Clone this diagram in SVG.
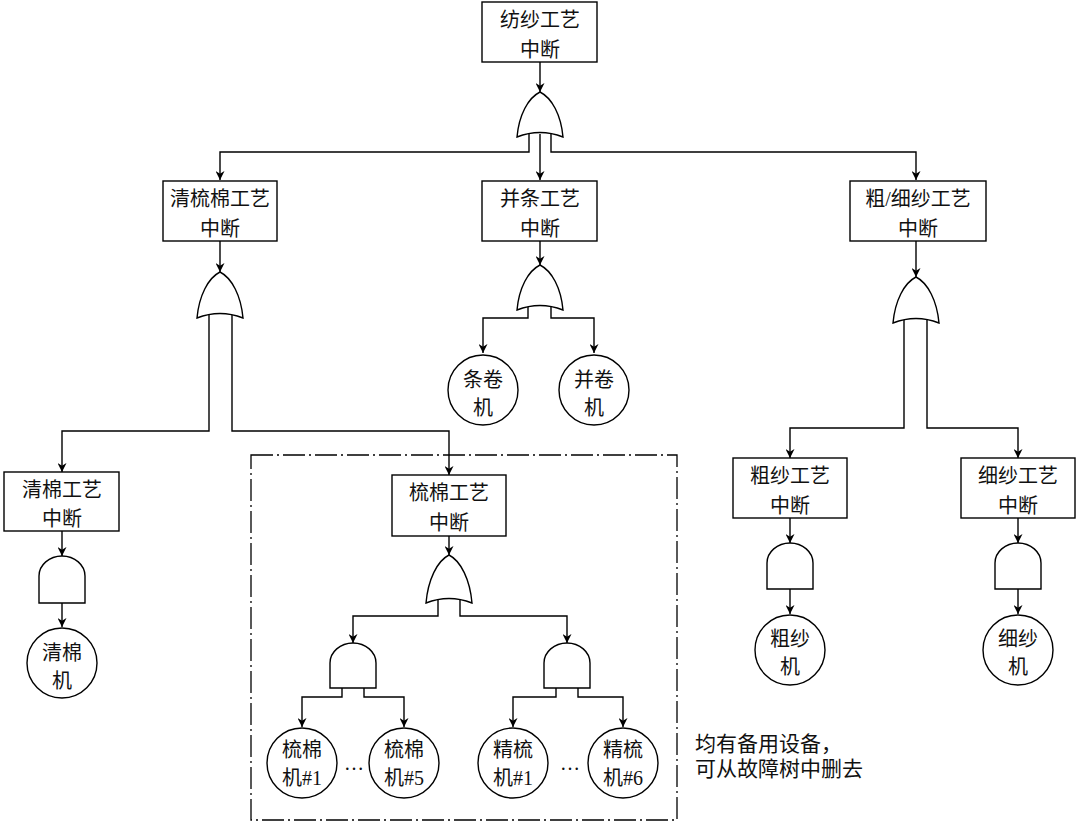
<svg xmlns="http://www.w3.org/2000/svg" width="1080" height="827" viewBox="0 0 1080 827">
<defs>
<style>
.box{fill:#fff;stroke:#000;stroke-width:1.4}
.gate{fill:#fff;stroke:#000;stroke-width:1.4}
.c{fill:none;stroke:#000;stroke-width:1.4}
.t{font-family:"Liberation Serif","Noto Sans CJK SC",serif;font-size:20px;text-anchor:middle;fill:#111}
.n{font-family:"Liberation Serif","Noto Sans CJK SC",serif;font-size:21px;text-anchor:start;fill:#111}
.dash{fill:none;stroke:#000;stroke-width:1.3;stroke-dasharray:22 4 2 4}
</style>
<marker id="ar" viewBox="0 0 10 10" refX="10" refY="5" markerWidth="9" markerHeight="9" markerUnits="userSpaceOnUse" orient="auto">
<path d="M0,0 L10,5 L0,10 L3,5 z" fill="#000"/>
</marker>
</defs>
<rect width="1080" height="827" fill="#fff"/>

<rect class="dash" x="251" y="455" width="426" height="365"/>

<g id="connectors" class="c" marker-end="url(#ar)">
<path d="M540,62 V92"/>
<path d="M529,134 V152 H220 V180"/>
<path d="M540,134 V180"/>
<path d="M551,134 V152 H916 V180"/>
<path d="M220,241 V272"/>
<path d="M540,241 V265"/>
<path d="M916,241 V277"/>
<path d="M209,315 V431 H62 V472"/>
<path d="M232,315 V431 H449 V475"/>
<path d="M528,307 V318 H483 V353"/>
<path d="M551,307 V318 H594 V353"/>
<path d="M904,320 V428 H790 V458"/>
<path d="M927,320 V428 H1018 V458"/>
<path d="M62,531 V556"/>
<path d="M62,603 V627"/>
<path d="M790,518 V543"/>
<path d="M790,589 V614"/>
<path d="M1018,518 V543"/>
<path d="M1018,589 V614"/>
<path d="M449,536 V555"/>
<path d="M438,600 V616 H353 V643"/>
<path d="M460,600 V616 H567 V643"/>
<path d="M342,688 V697 H302 V727"/>
<path d="M364,688 V697 H404 V727"/>
<path d="M556,688 V697 H513 V727"/>
<path d="M578,688 V697 H623 V727"/>
</g>

<g id="n_top"><rect class="box" x="482" y="2" width="115" height="60"/><text class="t" x="540" y="27">纺纱工艺</text><text class="t" x="540" y="57">中断</text></g>
<g id="g_top"><path class="gate" d="M540,92 C552,98 561,115 563,137 Q540,128 517,137 C519,115 528,98 540,92 Z"/></g>

<g id="n_qsm"><rect class="box" x="163" y="181" width="114" height="60"/><text class="t" x="220" y="206">清梳棉工艺</text><text class="t" x="220" y="236">中断</text></g>
<g id="g_qsm"><path class="gate" d="M220,272 C232,278 241,296 243,318 Q220,309 197,318 C199,296 208,278 220,272 Z"/></g>

<g id="n_bt"><rect class="box" x="482" y="181" width="115" height="60"/><text class="t" x="540" y="206">并条工艺</text><text class="t" x="540" y="236">中断</text></g>
<g id="g_bt"><path class="gate" d="M540,265 C552,271 561,288 563,310 Q540,301 517,310 C519,288 528,271 540,265 Z"/></g>

<g id="n_cx"><rect class="box" x="850" y="181" width="136" height="60"/><text class="t" x="918" y="206">粗/细纱工艺</text><text class="t" x="918" y="236">中断</text></g>
<g id="g_cx"><path class="gate" d="M916,277 C928,283 937,301 939,323 Q916,314 893,323 C895,301 904,283 916,277 Z"/></g>

<g id="c_tj"><circle class="box" cx="483" cy="390" r="35"/><text class="t" x="483" y="387">条卷</text><text class="t" x="483" y="415">机</text></g>
<g id="c_bj"><circle class="box" cx="594" cy="390" r="35"/><text class="t" x="594" y="387">并卷</text><text class="t" x="594" y="415">机</text></g>

<g id="n_qm"><rect class="box" x="4" y="472" width="115" height="59"/><text class="t" x="62" y="497">清棉工艺</text><text class="t" x="62" y="526">中断</text></g>
<g id="g_qm"><path class="gate" d="M39,603 V576 A23,20 0 0 1 85,576 V603 Z"/></g>
<g id="c_qm"><circle class="box" cx="62" cy="663" r="35"/><text class="t" x="62" y="660">清棉</text><text class="t" x="62" y="688">机</text></g>

<g id="n_sm"><rect class="box" x="392" y="475" width="114" height="61"/><text class="t" x="449" y="500">梳棉工艺</text><text class="t" x="449" y="530">中断</text></g>
<g id="g_sm"><path class="gate" d="M449,555 C461,561 470,580 472,603 Q449,594 426,603 C428,580 437,561 449,555 Z"/></g>
<g id="g_and1"><path class="gate" d="M330,688 V663 A23,20 0 0 1 376,663 V688 Z"/></g>
<g id="g_and2"><path class="gate" d="M544,688 V663 A23,20 0 0 1 590,663 V688 Z"/></g>

<g id="c_sm1"><circle class="box" cx="302" cy="763" r="35"/><text class="t" x="302" y="757">梳棉</text><text class="t" x="302" y="785">机#1</text></g>
<g id="c_sm5"><circle class="box" cx="404" cy="763" r="35"/><text class="t" x="404" y="757">梳棉</text><text class="t" x="404" y="785">机#5</text></g>
<g id="c_js1"><circle class="box" cx="513" cy="763" r="35"/><text class="t" x="513" y="757">精梳</text><text class="t" x="513" y="785">机#1</text></g>
<g id="c_js6"><circle class="box" cx="623" cy="763" r="35"/><text class="t" x="623" y="757">精梳</text><text class="t" x="623" y="785">机#6</text></g>
<text class="t" x="354" y="770">…</text>
<text class="t" x="570" y="770">…</text>

<g id="n_cs"><rect class="box" x="733" y="458" width="114" height="60"/><text class="t" x="790" y="483">粗纱工艺</text><text class="t" x="790" y="513">中断</text></g>
<g id="g_cs"><path class="gate" d="M767,589 V563 A23,20 0 0 1 813,563 V589 Z"/></g>
<g id="c_cs"><circle class="box" cx="790" cy="650" r="35"/><text class="t" x="790" y="646">粗纱</text><text class="t" x="790" y="674">机</text></g>

<g id="n_xs"><rect class="box" x="961" y="458" width="114" height="60"/><text class="t" x="1018" y="483">细纱工艺</text><text class="t" x="1018" y="513">中断</text></g>
<g id="g_xs"><path class="gate" d="M995,589 V563 A23,20 0 0 1 1041,563 V589 Z"/></g>
<g id="c_xs"><circle class="box" cx="1018" cy="650" r="35"/><text class="t" x="1018" y="646">细纱</text><text class="t" x="1018" y="674">机</text></g>

<g id="note"><text class="n" x="695" y="751">均有备用设备，</text><text class="n" x="695" y="776">可从故障树中删去</text></g>
</svg>
